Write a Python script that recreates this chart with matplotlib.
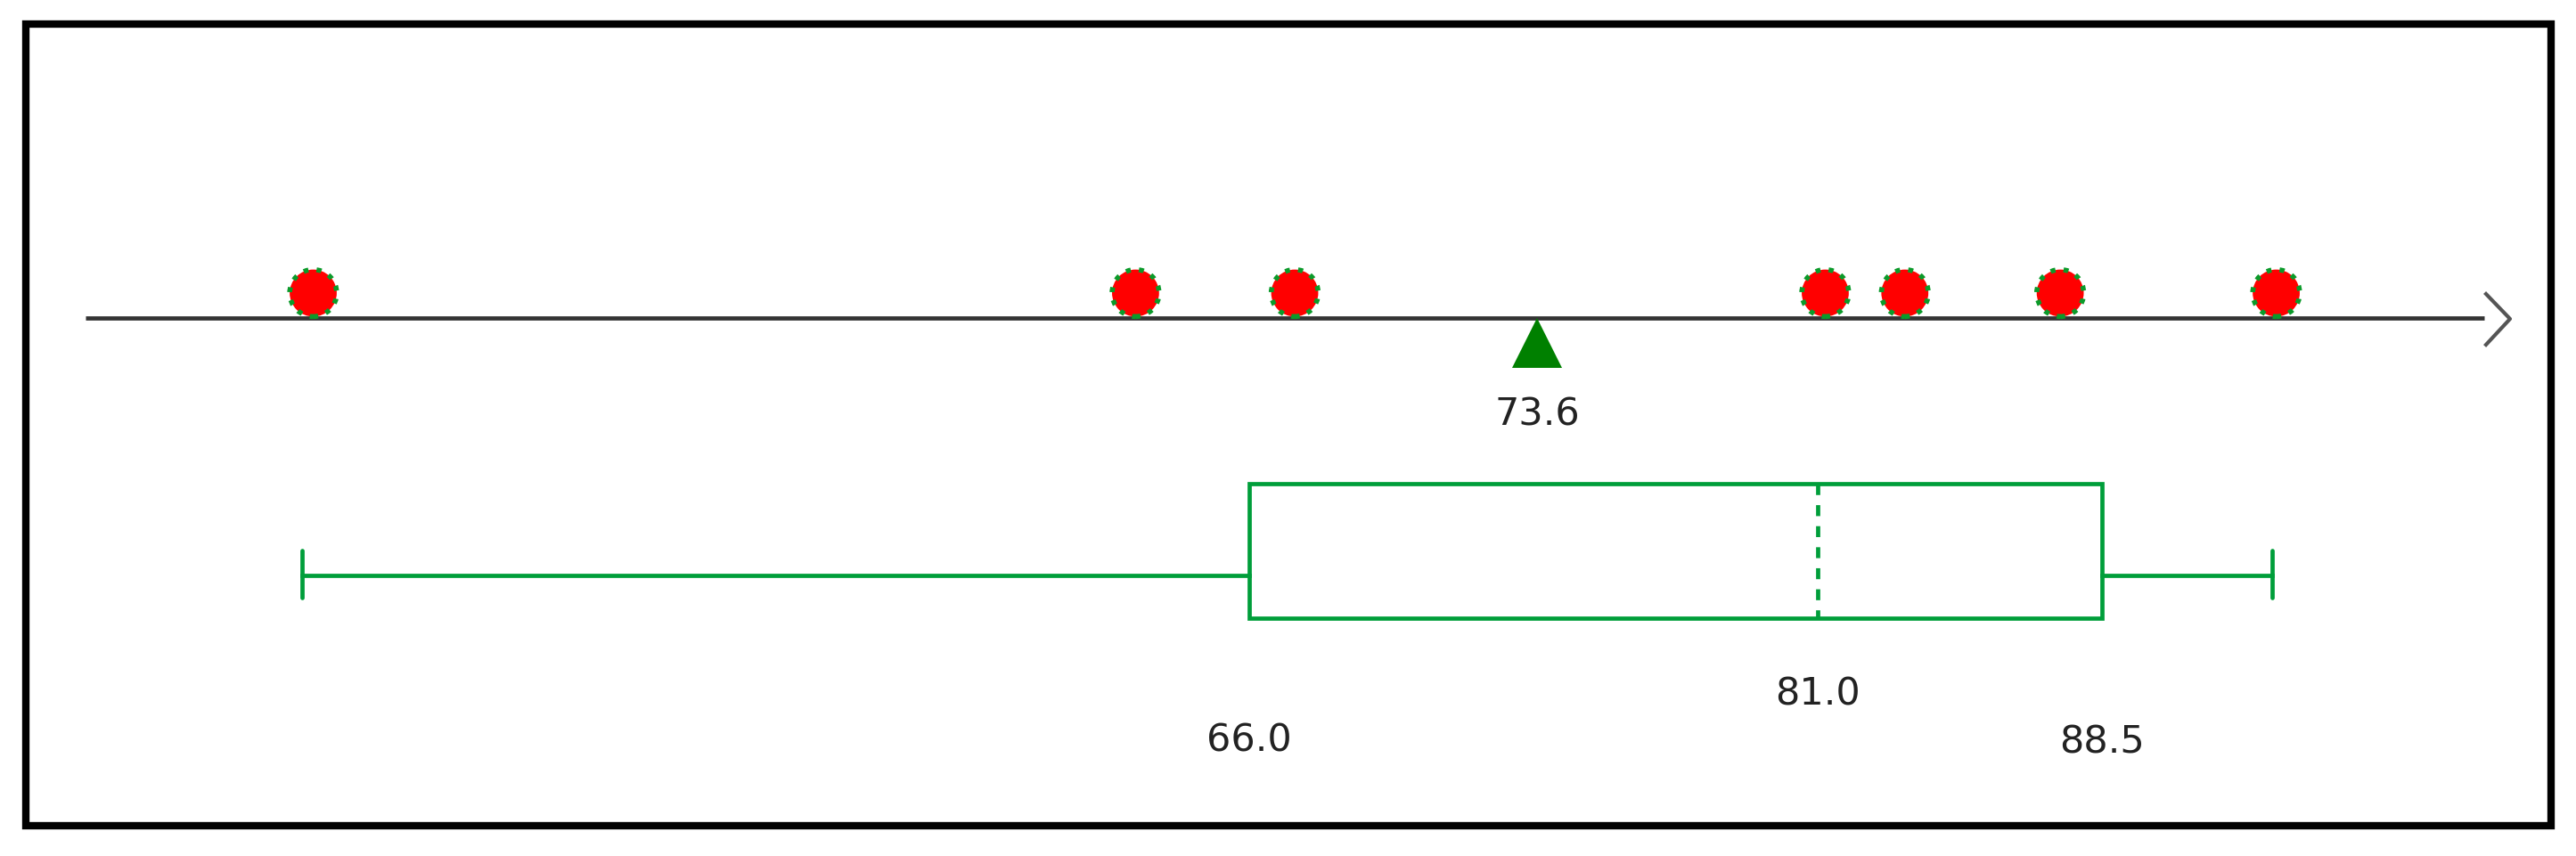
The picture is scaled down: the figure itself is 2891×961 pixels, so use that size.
import numpy as np
import matplotlib
matplotlib.use("Agg")
import matplotlib.pyplot as plt
from matplotlib.patches import Rectangle

# data
values = [41.3, 63.0, 67.2, 81.2, 83.3, 87.4, 93.1]
mean_value = 73.6
q1, median, q3 = 66.0, 81.0, 88.5
whisker_lo, whisker_hi = 41, 93
box_labels = ["66.0", "81.0", "88.5"]

W, H = 2891, 961
fig = plt.figure(figsize=(W / 100, H / 100), dpi=100)
ax = fig.add_axes([0, 0, 1, 1])

# horizontal scale: value -> pixel, matched to the reference
ppu = 42.53
x0 = q1 - 1402 / ppu
ax.set_xlim(x0, x0 + W / ppu)
ax.set_ylim(H, 0)
ax.axis("off")


def v(px):
    # pixel column -> value
    return x0 + px / ppu


green = "#009e3a"
lw = 3.4

# frame
ax.add_patch(Rectangle((v(29), 27), (2863 - 29) / ppu, 900, fill=False,
                       edgecolor="black", lw=6.0, zorder=1))

# number line with open arrow head
ax.plot([v(96), v(2788)], [357, 357], color="#333333", lw=3.4, zorder=2,
        solid_capstyle="butt")
ax.plot([v(2790), v(2817), v(2790)], [330, 358, 387], color="#555555", lw=3.0,
        zorder=2)

# data points
ax.scatter(values, [329] * len(values), s=38 ** 2, color="red",
           edgecolors="#0b9a2a", linewidths=4, linestyle=":", zorder=4)

# mean marker
ax.plot([mean_value], [385], marker="^", markersize=40, color="#008000",
        markeredgewidth=0, zorder=4)
ax.text(mean_value, 466, f"{mean_value:.1f}", ha="center", va="center",
        fontsize=31, color="#222222")

# box
box_top, box_bot, whisk_y = 543, 694, 646
ax.add_patch(Rectangle((q1, box_top), q3 - q1, box_bot - box_top, fill=False,
                       edgecolor=green, lw=lw, zorder=3))
ax.plot([median, median], [box_top, box_bot], color=green, lw=lw,
        linestyle=(0, (2.6, 2.4)), zorder=3)

# whiskers and caps
ax.plot([whisker_lo, q1], [whisk_y, whisk_y], color=green, lw=lw, zorder=3)
ax.plot([q3, whisker_hi], [whisk_y, whisk_y], color=green, lw=lw, zorder=3)
for w in (whisker_lo, whisker_hi):
    ax.plot([w, w], [618, 671], color=green, lw=lw, zorder=3,
            solid_capstyle="round")

# box labels
for val, lab, y in zip([q1, median, q3], box_labels, [832, 780, 833]):
    ax.text(val, y, lab, ha="center", va="center", fontsize=31,
            color="#222222")

fig.savefig("out.png", dpi=100, facecolor="white")
